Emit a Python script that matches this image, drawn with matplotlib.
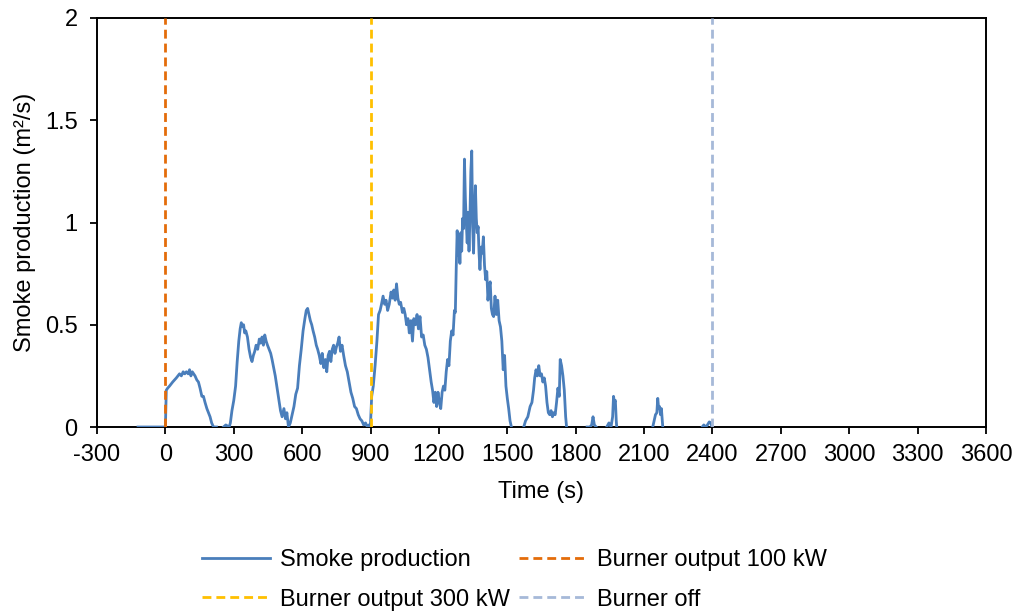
import numpy as np
import matplotlib
matplotlib.use("Agg")
import matplotlib.pyplot as plt
from matplotlib.ticker import FuncFormatter

plt.rcParams['font.family'] = ['Liberation Sans', 'DejaVu Sans']
plt.rcParams['axes.unicode_minus'] = False

# smoke production, nan = gap in the curve
time_s = [
    -120, 0,
    0, 4, 10, 18, 25, 32, 40, 48, 55, 62, 70, 78, 85, 92, 100, 106, 112, 118, 124, 130,
    138, 145, 152, 160, 167, 174, 182, 189, 196, 203, 211, 224, 235, 255, 265, 280,
    285, 292, 300, 308, 315, 322, 328, 333, 338, 343, 348, 353, 360, 367, 374, 380, 386,
    392, 398, 405, 412, 418, 424, 430, 436, 442, 448, 455, 462, 468, 475, 482, 490, 497,
    505, 512, 520, 527, 533, 540,
    548, 556, 564, 572, 580, 588, 596, 604, 612, 618, 624, 630, 636, 642, 648, 655, 662,
    668, 675, 682, 688, 695, 702, 708, 714, 720, 726, 732, 738, 744, 750, 756, 762, 768,
    775, 782, 790, 798, 806, 814, 822, 830, 838, 846, 854, 862, 870, 878, 886, 893, 898,
    900, 905, 912, 920, 928, 935, 942, 948, 955, 962, 968, 975, 982, 990, 996, 1002, 1008,
    1014, 1020, 1026, 1032, 1040, 1046, 1052, 1058, 1064, 1070, 1077, 1084, 1090, 1097,
    1104, 1110, 1117, 1124, 1131, 1138, 1145, 1152, 1160, 1166, 1172, 1178, 1184, 1190,
    1196, 1202, 1208, 1214, 1220, 1226, 1232, 1238, 1244, 1250, 1256, 1262, 1268, 1272,
    1276, 1280, 1284, 1288, 1292, 1296, 1300, 1304, 1308, 1312, 1316, 1320, 1324, 1328,
    1332, 1336, 1340, 1344, 1348, 1352, 1356, 1360, 1364, 1368, 1372, 1376, 1380, 1385,
    1390, 1395, 1400, 1405, 1410, 1415, 1420, 1425, 1430, 1435, 1440, 1446, 1452, 1458,
    1464, 1470, 1476, 1482, 1488, 1494, 1500, 1506, 1512, 1518, 1540,
    1572, 1580, 1590, 1600, 1608, 1615, 1620, 1626, 1632, 1638, 1644, 1650, 1656, 1662,
    1668, 1674, 1680, 1686, 1692, 1698, 1704, 1710, 1716, 1722, 1728, 1732, 1738, 1744,
    1750, 1756, 1760, 1800,
    1850, 1862, 1870, 1876, 1882, 1890, 1910,
    1936, 1946, 1955, 1962, 1966, 1970, 1974, 1978, 1980, 2050,
    2138, 2146, 2150, 2156, 2160, 2164, 2168, 2172, 2176, 2182, 2250,
    2355, 2362, 2370, 2378, 2386, 2393, 2398,
]
smoke = [
    0, 0,
    0, 0.18, 0.19, 0.20, 0.21, 0.22, 0.23, 0.24, 0.25, 0.26, 0.25, 0.27, 0.26, 0.27, 0.26, 0.28, 0.25, 0.27, 0.26, 0.25,
    0.23, 0.22, 0.19, 0.15, 0.15, 0.12, 0.09, 0.07, 0.05, 0.02, 0.0, 0.0, np.nan, 0.0, 0.01, 0.0,
    0.02, 0.08, 0.13, 0.20, 0.32, 0.42, 0.48, 0.51, 0.49, 0.50, 0.46, 0.47, 0.44, 0.38, 0.34, 0.32, 0.35,
    0.37, 0.40, 0.38, 0.43, 0.41, 0.44, 0.40, 0.45, 0.42, 0.40, 0.38, 0.36, 0.33, 0.29, 0.25, 0.19, 0.14,
    0.08, 0.05, 0.09, 0.04, 0.07, 0.0,
    0.02, 0.06, 0.10, 0.16, 0.19, 0.30, 0.38, 0.47, 0.53, 0.57, 0.58, 0.55, 0.52, 0.50, 0.47, 0.44, 0.40,
    0.38, 0.35, 0.31, 0.36, 0.29, 0.33, 0.27, 0.35, 0.37, 0.32, 0.38, 0.40, 0.36, 0.39, 0.41, 0.44, 0.37,
    0.40, 0.35, 0.30, 0.27, 0.22, 0.17, 0.14, 0.10, 0.09, 0.06, 0.04, 0.03, 0.01, 0.02, 0.0, 0.01, 0.0,
    0.02, 0.15, 0.20, 0.30, 0.42, 0.55, 0.57, 0.60, 0.64, 0.60, 0.62, 0.57, 0.60, 0.66, 0.63, 0.67, 0.62,
    0.70, 0.63, 0.60, 0.61, 0.56, 0.58, 0.55, 0.50, 0.53, 0.46, 0.52, 0.42, 0.53, 0.50,
    0.55, 0.48, 0.54, 0.44, 0.45, 0.40, 0.38, 0.34, 0.27, 0.22, 0.18, 0.12, 0.17, 0.10,
    0.17, 0.12, 0.09, 0.17, 0.20, 0.18, 0.27, 0.33, 0.30, 0.42, 0.47, 0.45, 0.57, 0.56,
    0.78, 0.96, 0.84, 0.93, 0.80, 0.95, 0.86, 1.02, 0.97, 1.31, 1.12, 1.00, 0.90, 1.05,
    0.86, 1.02, 1.25, 1.35, 0.98, 0.85, 1.05, 1.18, 1.02, 0.95, 0.98, 0.85, 0.77, 0.88,
    0.85, 0.93, 0.79, 0.72, 0.76, 0.62, 0.68, 0.71, 0.58, 0.55, 0.54, 0.64, 0.55, 0.62,
    0.52, 0.49, 0.42, 0.28, 0.35, 0.20, 0.14, 0.09, 0.03, 0.0, np.nan,
    0.0, 0.03, 0.05, 0.10, 0.12, 0.18, 0.24, 0.28, 0.25, 0.30, 0.25, 0.26, 0.22, 0.24,
    0.20, 0.12, 0.07, 0.06, 0.08, 0.05, 0.07, 0.06, 0.12, 0.19, 0.15, 0.33, 0.30, 0.25,
    0.18, 0.05, 0.0, np.nan,
    0.0, 0.0, 0.01, 0.05, 0.01, 0.0, np.nan,
    0.0, 0.02, 0.0, 0.05, 0.15, 0.12, 0.13, 0.03, 0.0, np.nan,
    0.0, 0.04, 0.06, 0.07, 0.14, 0.09, 0.10, 0.06, 0.09, 0.0, np.nan,
    0.0, 0.01, 0.0, 0.01, 0.025, 0.02, 0.0,
]

event_times = [0, 900, 2400]
event_labels = ['Burner output 100 kW', 'Burner output 300 kW', 'Burner off']
event_colors = ['#E46C0A', '#FFC000', '#A6B9D8']

x_ticks = list(range(-300, 3601, 300))
y_ticks = [0, 0.5, 1, 1.5, 2]

fs = 17

fig = plt.figure(figsize=(10.18, 6.14), dpi=100)
ax = fig.add_axes([97 / 1018, 1 - 427 / 614, (986 - 97) / 1018, (427 - 18) / 614])

ax.plot(time_s, smoke, color='#4A7EBB', lw=2.0, label='Smoke production', zorder=3)
for t, lab, c in zip(event_times, event_labels, event_colors):
    ax.plot([t, t], [0, 2], color=c, lw=2.0, dashes=(3.2, 1.8), label=lab, zorder=4)

ax.set_xlim(-300, 3600)
ax.set_ylim(0, 2)
ax.set_xticks(x_ticks)
ax.set_yticks(y_ticks)
ax.yaxis.set_major_formatter(FuncFormatter(lambda v, p: f'{v:g}'))
ax.tick_params(labelsize=fs, length=5, width=1.3, color='black', direction='out')
ax.tick_params(axis='x', pad=7)
ax.tick_params(axis='y', pad=9)

for s in ax.spines.values():
    s.set_color('black')
    s.set_linewidth(1.4)

ax.set_xlabel('Time (s)', fontsize=fs, labelpad=11)
ax.set_ylabel('Smoke production (m²/s)', fontsize=fs, labelpad=6)

h, l = ax.get_legend_handles_labels()
order = [0, 2, 1, 3]
fig.legend([h[i] for i in order], [l[i] for i in order], ncol=2, frameon=False,
           fontsize=fs, loc='upper left', bbox_to_anchor=(190 / 1018, 1 - 537 / 614),
           borderpad=0, handlelength=2.9, handletextpad=0.4, columnspacing=0.4,
           labelspacing=0.75)

fig.savefig('out.png', dpi=100)
